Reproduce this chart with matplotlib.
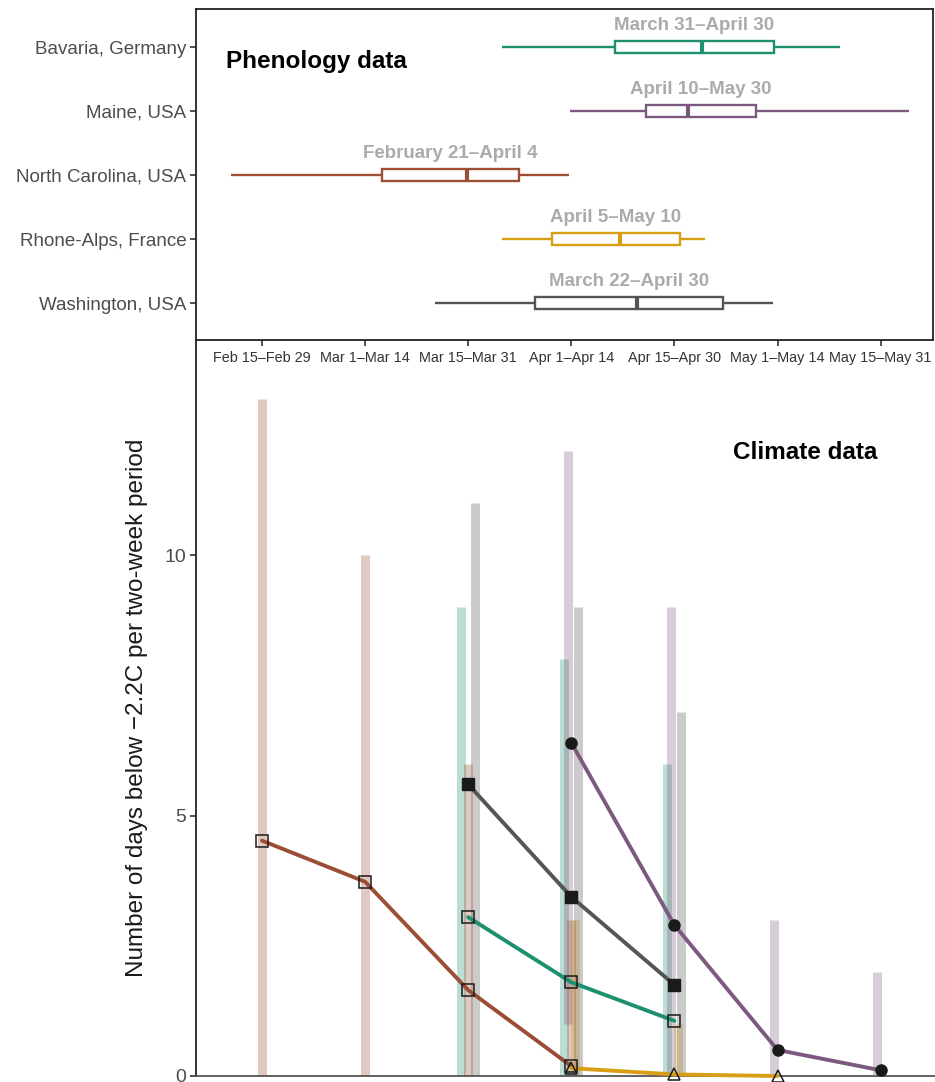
import numpy as np
import matplotlib
matplotlib.use("Agg")
import matplotlib.pyplot as plt
from matplotlib.patches import Rectangle

plt.rcParams['font.family'] = ['Liberation Sans', 'DejaVu Sans']

# ---------------- data ----------------
regions = ["Bavaria, Germany", "Maine, USA", "North Carolina, USA",
           "Rhone-Alps, France", "Washington, USA"]
region_colors = ["#1E9070", "#7C5A80", "#9C4E34", "#D89F16", "#555555"]
range_labels = ["March 31\u2013April 30", "April 10\u2013May 30",
                "February 21\u2013April 4", "April 5\u2013May 10",
                "March 22\u2013April 30"]

# phenology box statistics (position on the two-week-period axis)
whisk_lo = [2.33, 2.99, -0.30, 2.33, 1.68]
q1 = [3.42, 3.72, 1.16, 2.81, 2.65]
median = [4.27, 4.13, 1.99, 3.47, 3.64]
q3 = [4.97, 4.79, 2.49, 4.05, 4.47]
whisk_hi = [5.61, 6.28, 2.98, 4.30, 4.96]

periods = ["Feb 15\u2013Feb 29", "Mar 1\u2013Mar 14", "Mar 15\u2013Mar 31",
           "Apr 1\u2013Apr 14", "Apr 15\u2013Apr 30", "May 1\u2013May 14",
           "May 15\u2013May 31"]
nan = np.nan
# mean number of days below -2.2C per period
bavaria_mean = [nan, nan, 3.05, 1.80, 1.06, nan, nan]
maine_mean = [nan, nan, nan, 6.40, 2.90, 0.50, 0.11]
ncarolina_mean = [4.52, 3.73, 1.65, 0.19, nan, nan, nan]
rhone_mean = [nan, nan, nan, 0.15, 0.03, 0.0, nan]
washington_mean = [nan, nan, 5.60, 3.44, 1.75, nan, nan]
# ranges (min, max)
bavaria_min = [nan, nan, 0, 0, 0, nan, nan]
bavaria_max = [nan, nan, 9, 8, 6, nan, nan]
maine_min = [nan, nan, nan, 1, 0, 0, 0]
maine_max = [nan, nan, nan, 12, 9, 3, 2]
ncarolina_min = [0, 0, 0, 0, nan, nan, nan]
ncarolina_max = [13, 10, 6, 3, nan, nan, nan]
rhone_min = [nan, nan, nan, 0, 0, 0, nan]
rhone_max = [nan, nan, nan, 3, 1, 0, nan]
washington_min = [nan, nan, 0, 0, 0, nan, nan]
washington_max = [nan, nan, 11, 9, 7, nan, nan]

means = [bavaria_mean, maine_mean, ncarolina_mean, rhone_mean, washington_mean]
mins = [bavaria_min, maine_min, ncarolina_min, rhone_min, washington_min]
maxs = [bavaria_max, maine_max, ncarolina_max, rhone_max, washington_max]

# ---------------- figure ----------------
W, H = 935, 1082
fig = plt.figure(figsize=(W / 100, H / 100), dpi=100)

def frac(l, t, r, b):
    return [l / W, 1 - b / H, (r - l) / W, (b - t) / H]

ax2 = fig.add_axes(frac(196, 340, 935, 1076))
ax1 = fig.add_axes(frac(196, 9, 933, 340))
ax2.patch.set_visible(False)
ax1.set_zorder(3)

px_per_unit = 103.1
x0 = 262
ax1.set_xlim((196 - x0) / px_per_unit, (933 - x0) / px_per_unit)
ax2.set_xlim((196 - x0) / px_per_unit, (935 - x0) / px_per_unit)

# ---- top panel: phenology ----
ypos = [5, 4, 3, 2, 1]
bh = 0.2
for i, r in enumerate(regions):
    y = ypos[i]
    c = region_colors[i]
    ax1.plot([whisk_lo[i], q1[i]], [y, y], color=c, lw=1.7, solid_capstyle='butt')
    ax1.plot([q3[i], whisk_hi[i]], [y, y], color=c, lw=1.7, solid_capstyle='butt')
    ax1.add_patch(Rectangle((q1[i], y - bh / 2), q3[i] - q1[i], bh,
                            facecolor='white', edgecolor=c, lw=1.7, zorder=3))
    ax1.plot([median[i], median[i]], [y - bh / 2, y + bh / 2], color=c, lw=3,
             solid_capstyle='butt', zorder=4)
    ax1.text((q1[i] + q3[i]) / 2, y + 0.33, range_labels[i], ha='center',
             va='center', fontsize=13.5, fontweight='bold', color='#ABABAB')

ax1.set_ylim(1 - 37 / 64, 5 + 38 / 64)
ax1.set_yticks(ypos)
ax1.set_yticklabels(regions, fontsize=13.5, color='#4D4D4D')
ax1.set_xticks(range(len(periods)))
ax1.set_xticklabels(periods, fontsize=10.4, color='#333333')
ax1.tick_params(axis='y', length=4, width=1.2, color='#333333', pad=3)
ax1.tick_params(axis='x', length=4, width=1.2, color='#333333', pad=4)
for s in ax1.spines.values():
    s.set_linewidth(1.3)
    s.set_color('#222222')
ax1.text(0.0407, 0.84, "Phenology data", transform=ax1.transAxes,
         fontsize=17.5, fontweight='bold', va='center', ha='left')

# ---- bottom panel: climate ----
step = 3.5 / px_per_unit
offsets = [-2, -1, 0, 1, 2]
xs = np.arange(len(periods))
for i in range(len(regions)):
    lo = np.array(mins[i], float)
    hi = np.array(maxs[i], float)
    ok = ~np.isnan(hi)
    ax2.vlines(xs[ok] + offsets[i] * step, lo[ok], hi[ok], colors=region_colors[i],
               alpha=0.3, lw=6.5, capstyle='butt', zorder=1)

marker_spec = [
    dict(marker='s', mfc='none', mec='#1A1A1A', ms=8.5, mew=1.1),
    dict(marker='o', mfc='#1A1A1A', mec='#1A1A1A', ms=8, mew=1),
    dict(marker='s', mfc='none', mec='#1A1A1A', ms=8.5, mew=1.1),
    dict(marker='^', mfc='none', mec='#1A1A1A', ms=8.5, mew=1.1),
    dict(marker='s', mfc='#1A1A1A', mec='#1A1A1A', ms=8, mew=1),
]
for i in range(len(regions)):
    m = np.array(means[i], float)
    ok = ~np.isnan(m)
    ax2.plot(xs[ok], m[ok], color=region_colors[i], lw=2.8, zorder=3,
             solid_capstyle='round', clip_on=False)
for i in range(len(regions)):
    m = np.array(means[i], float)
    ok = ~np.isnan(m)
    ax2.plot(xs[ok], m[ok], ls='none', zorder=4, clip_on=False, **marker_spec[i])

ax2.set_ylim(0, (1075 - 340) / 52)
ax2.set_yticks([0, 5, 10])
ax2.set_yticklabels(["0", "5", "10"], fontsize=14, color='#4D4D4D')
ax2.set_xticks([])
ax2.tick_params(axis='y', length=4, width=1.2, color='#333333', pad=3)
ax2.spines['top'].set_visible(False)
ax2.spines['right'].set_visible(False)
ax2.spines['left'].set_linewidth(1.3)
ax2.spines['left'].set_color('#222222')
ax2.spines['bottom'].set_linewidth(1.3)
ax2.spines['bottom'].set_color('#555555')
ax2.set_ylabel("Number of days below \u22122.2C per two-week period",
               fontsize=17.5, color='#1A1A1A')
ax2.yaxis.set_label_coords(-(196 - 148) / 739, 0.5)
ax2.text(0.7267, 0.8465, "Climate data", transform=ax2.transAxes,
         fontsize=17.5, fontweight='bold', va='center', ha='left')

fig.savefig("out.png", dpi=100)
